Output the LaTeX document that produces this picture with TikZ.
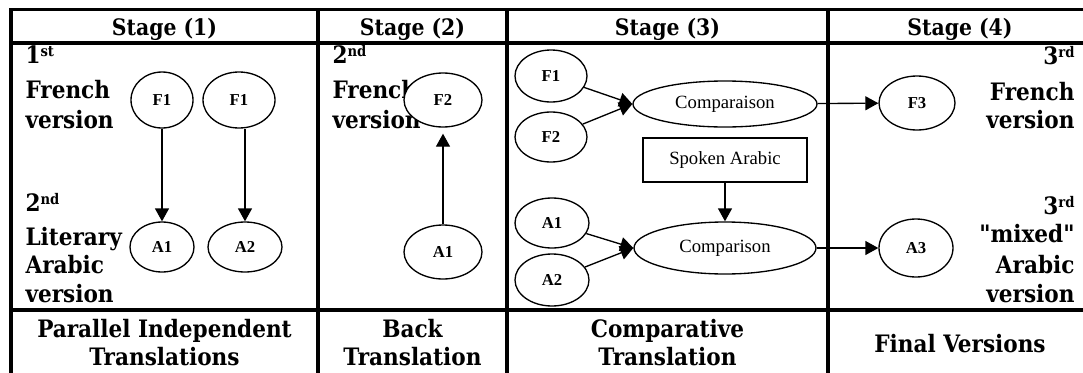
\documentclass[tikz,border=0pt]{standalone}
\usepackage{fontspec}
\setmainfont{DejaVu Serif Condensed}[Ligatures=TeXOff]
\newfontfamily\ovalfont{Liberation Serif}
\usetikzlibrary{shapes.geometric,arrows.meta}

\newcommand{\ordsup}[1]{\raisebox{0.55ex}{\fontsize{11}{12}\selectfont #1}}

\tikzset{every picture/.style={line width=0.75pt}}
\tikzset{
  grid/.style={line width=2.6pt},
  head/.style={inner sep=0pt, font=\fontsize{17}{20}\selectfont\bfseries},
  cell/.style={inner sep=0pt, font=\fontsize{18}{20}\selectfont\bfseries},
  oval/.style={draw, ellipse, fill=white, line width=1pt, inner sep=0pt, font=\ovalfont\fontsize{12.5}{14}\selectfont\bfseries},
  bigoval/.style={draw, ellipse, fill=white, line width=1pt, inner sep=0pt, font=\ovalfont\fontsize{14}{16}\selectfont},
  link/.style={line width=1pt, -{Triangle[length=9.75pt,width=10.5pt]}},
}

\begin{document}
\begin{tikzpicture}[x=0.75pt,y=0.75pt,yscale=-1,xscale=1]
	\useasboundingbox (0,0) rectangle (1083,372);

	%Table lines
	\draw [grid] (11,9.5) -- (1092,9.5) ;
	\draw [grid] (11,43) -- (1092,43) ;
	\draw [grid] (11,310) -- (1092,310) ;
	\draw [grid] (11,8) -- (11,380) ;
	\draw [grid] (318,8) -- (318,380) ;
	\draw [grid] (507,8) -- (507,380) ;
	\draw [grid] (828,8) -- (828,380) ;
	\draw [grid] (1092,8) -- (1092,380) ;

	% Header
	\node [head, anchor=base] (hd1) at (164.5,35) {Stage (1)};
	\node [head, anchor=base] (hd2) at (412.5,35) {Stage (2)};
	\node [head, anchor=base] (hd3) at (667.5,35) {Stage (3)};
	\node [head, anchor=base] (hd4) at (960,35) {Stage (4)};

	% Text Node
	\node [cell, anchor=base west] (c1a) at (25,63) {1\ordsup{st}};
	\node [cell, anchor=base west] (c1b) at (25,98) {French};
	\node [cell, anchor=base west] (c1c) at (25,128) {version};
	\node [cell, anchor=base west] (c1d) at (25,211) {2\ordsup{nd}};
	\node [cell, anchor=base west] (c1e) at (25,245) {Literary};
	\node [cell, anchor=base west] (c1f) at (25,273) {Arabic};
	\node [cell, anchor=base west] (c1g) at (25,302) {version};
	% Text Node
	\node [cell, anchor=base west] (c2a) at (332,63) {2\ordsup{nd}};
	\node [cell, anchor=base west] (c2b) at (332,98) {French};
	\node [cell, anchor=base west] (c2c) at (332,128) {version};
	% Text Node
	\node [cell, anchor=base east] (c4a) at (1075,64) {3\ordsup{rd}};
	\node [cell, anchor=base east] (c4b) at (1075,100) {French};
	\node [cell, anchor=base east] (c4c) at (1075,128) {version};
	\node [cell, anchor=base east] (c4d) at (1075,214) {3\ordsup{rd}};
	\node [cell, anchor=base east] (c4e) at (1075,242) {"mixed"};
	\node [cell, anchor=base east] (c4f) at (1075,273) {Arabic};
	\node [cell, anchor=base east] (c4g) at (1075,302) {version};

	% Footer
	\node [cell, anchor=base] (ft1a) at (164.5,337) {Parallel Independent};
	\node [cell, anchor=base] (ft1b) at (164.5,365) {Translations};
	\node [cell, anchor=base] (ft2a) at (412.5,337) {Back};
	\node [cell, anchor=base] (ft2b) at (412.5,365) {Translation};
	\node [cell, anchor=base] (ft3a) at (667.5,337) {Comparative};
	\node [cell, anchor=base] (ft3b) at (667.5,365) {Translation};
	\node [cell, anchor=base] (ft4) at (960,352) {Final Versions};

	%Shape: Ellipse, stage (1)
	\node [oval, minimum width=46.5pt, minimum height=42pt] (F1a) at (162,100) {F1};
	\node [oval, minimum width=54pt, minimum height=42pt] (F1b) at (239,100) {F1};
	\node [oval, minimum width=48pt, minimum height=37.5pt] (A1a) at (162,247) {A1};
	\node [oval, minimum width=55.5pt, minimum height=37.5pt] (A2a) at (245,247) {A2};
	%Straight Lines
	\draw [link] (F1a) -- (A1a) ;
	\draw [link] (F1b.south -| A2a.north) -- (A2a.north) ;

	%Shape: Ellipse, stage (2)
	\node [oval, minimum width=58.5pt, minimum height=40.5pt] (F2b) at (443,100) {F2};
	\node [oval, minimum width=58.5pt, minimum height=40.5pt] (A1b) at (443,252) {A1};
	%Straight Lines
	\draw [link, shorten >=4.5pt] (A1b) -- (F2b) ;

	%Shape: Ellipse, stage (3)
	\node [oval, minimum width=54pt, minimum height=39pt] (F1c) at (551,76) {F1};
	\node [oval, minimum width=54pt, minimum height=37.5pt] (F2c) at (551,137) {F2};
	\node [bigoval, minimum width=138pt, minimum height=34.5pt] (cmpF) at (725,104) {Comparaison};
	\node [draw, line width=1pt, minimum width=123pt, minimum height=33pt, font=\ovalfont\fontsize{14}{16}\selectfont] (spoken) at (725,160) {Spoken Arabic};
	\node [oval, minimum width=55.5pt, minimum height=37.5pt] (A1c) at (552,223) {A1};
	\node [oval, minimum width=55.5pt, minimum height=39pt] (A2c) at (552,280) {A2};
	\node [bigoval, minimum width=136.5pt, minimum height=39pt] (cmpA) at (725,248) {Comparison};
	%Straight Lines
	\draw [link] (F1c) -- (cmpF.west) ;
	\draw [link] (F2c) -- (cmpF.west) ;
	\draw [link] (A1c) -- (cmpA.west) ;
	\draw [link] (A2c) -- (cmpA.west) ;
	\draw [link] (spoken) -- (cmpA) ;

	%Shape: Ellipse, stage (4)
	\node [oval, minimum width=57pt, minimum height=40.5pt] (F3) at (917,103) {F3};
	\node [oval, minimum width=55.5pt, minimum height=43.5pt] (A3) at (916,248) {A3};
	%Straight Lines
	\draw [link] (cmpF) -- (F3) ;
	\draw [link] (cmpA) -- (A3) ;

\end{tikzpicture}
\end{document}
